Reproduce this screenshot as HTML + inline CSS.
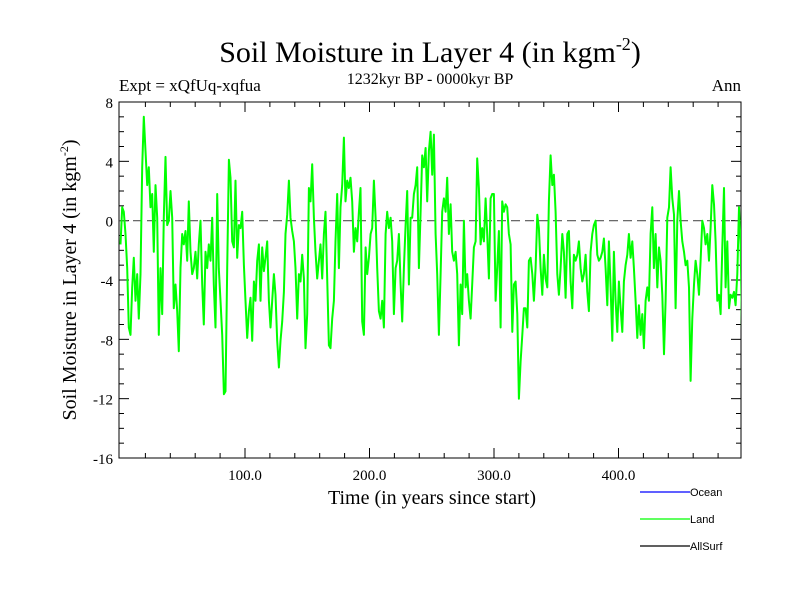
<!DOCTYPE html>
<html><head><meta charset="utf-8"><style>body{margin:0;background:#fff}svg{display:block}</style></head>
<body>
<svg id="chart" width="800" height="600" xmlns="http://www.w3.org/2000/svg" font-family="'Liberation Serif', serif">
<text x="430" y="62" text-anchor="middle" font-size="30">Soil Moisture in Layer 4 (in kgm<tspan font-size="18" dy="-12">-2</tspan><tspan dy="12">)</tspan></text>
<text x="119" y="91" font-size="17">Expt = xQfUq-xqfua</text>
<text x="430" y="84" text-anchor="middle" font-size="16">1232kyr BP - 0000kyr BP</text>
<text x="741" y="91" text-anchor="end" font-size="17">Ann</text>
<text transform="translate(76,280) rotate(-90)" text-anchor="middle" font-size="20">Soil Moisture in Layer 4 (in kgm<tspan font-size="12" dy="-8">-2</tspan><tspan dy="8">)</tspan></text>
<text x="432" y="504" text-anchor="middle" font-size="20">Time (in years since start)</text>
<g id="axes"></g>
<defs><clipPath id="clip"><rect x="119" y="102" width="622" height="356"/></clipPath></defs>
<g id="plot" clip-path="url(#clip)"></g>
<g id="legend" font-family="'Liberation Sans', sans-serif" font-size="11"></g>
</svg>
<script>
const STEP = 1.339;
const landValues = [-1.6,0.9,0.6,-0.9,-3.2,-7.2,-7.7,-4.5,-2.5,-5.4,-3.6,-6.6,-3.6,3.6,7.0,4.7,2.4,3.6,0.9,1.8,-2.1,2.4,0.2,-7.7,-3.2,-6.3,0.2,4.3,-0.3,0,2.0,0.2,-5.9,-4.3,-6.1,-8.8,-3.2,-0.9,-1.6,-0.7,-2.7,1.3,-2.1,-3.6,-3.2,-2.1,-3.9,-1.6,0,-4.3,-7.0,-2.1,-3.2,-1.6,-2.7,0.2,-4.3,-7.2,1.8,-3.2,-5.4,-7.7,-11.7,-11.5,-3.2,4.1,2.9,-1.4,-1.8,2.7,-2.5,-0.3,-0.5,0.6,-3.0,-5.4,-7.9,-6.1,-5.2,-8.1,-4.1,-5.4,-2.7,-1.6,-5.4,-1.8,-3.4,-2.5,-1.4,-5.4,-7.2,-5.4,-3.6,-5.0,-8.1,-9.9,-8.1,-6.8,-4.8,-0.9,0.4,2.7,0.2,-0.7,-1.4,-3.2,-6.6,-3.6,-4.1,-2.3,-3.9,-8.6,-6.3,2.2,1.3,3.8,0.2,-2.1,-3.9,-2.7,-1.6,-3.9,-0.9,0.6,-3.9,-8.4,
-8.6,-6.6,-5.4,-1.4,1.8,-3.2,0.9,2.4,5.6,1.3,2.7,2.2,2.9,1.3,-2.1,-0.5,-1.4,0.6,2.2,-6.8,-7.7,-1.8,-3.6,-2.5,-0.9,-0.5,2.7,0.2,-3.2,-6.1,-6.6,-5.4,-7.2,-0.9,0.6,-0.5,0.2,-1.4,-6.3,-3.2,-2.7,-0.9,-4.3,-6.8,-3.2,-0.3,2.0,-4.3,0.2,0.2,1.8,2.4,3.6,-3.2,0.6,4.4,3.6,4.9,1.3,4.7,6.0,3.1,5.8,-0.9,-3.6,-7.7,-3.6,0.6,1.5,0.6,2.9,-0.9,1.1,-2.1,-2.7,-2.1,-3.6,-8.4,-4.3,-6.3,0,-4.5,-3.6,-5.4,-6.6,-4.3,-1.8,-1.4,4.2,2.2,-1.6,-0.5,-1.4,1.5,-0.9,-3.9,1.5,1.8,1.8,-5.4,-3.2,-0.7,-7.2,1.3,0.6,1.1,0.9,-0.9,-1.6,-7.5,-4.3,-4.1,-6.3,-12.0,-9.5,-7.7,-5.9,-5.9,-7.2,-2.7,-2.5,-3.6,-5.4,
-3.2,0.4,-0.5,-3.2,-5.0,-2.3,-3.9,-4.5,1.3,4.4,2.4,3.1,0.6,-3.6,-5.0,-3.2,-0.9,-2.1,-5.2,-0.9,-0.7,-4.1,-5.9,-2.3,-2.7,-2.3,-1.4,-3.2,-4.1,-3.6,-2.3,-4.8,-6.1,-2.1,-0.9,-0.3,0,-2.3,-2.7,-2.5,-2.1,-1.2,-3.2,-5.7,-1.4,-4.5,-8.1,-2.1,-5.4,-7.5,-4.1,-5.9,-7.5,-4.1,-3.0,-2.3,-0.9,-2.5,-1.4,-3.2,-5.4,-7.9,-5.7,-7.7,-6.3,-8.6,-5.4,-4.5,-5.4,-0.9,0.9,-3.2,-0.9,-4.5,-1.8,-2.7,-5.0,-9.0,-5.4,0.2,0.9,3.6,1.5,0.4,-5.9,0,2.0,0,-1.4,-2.1,-3.0,-2.7,-4.5,-10.8,-6.6,-4.3,-2.7,-3.6,-5.0,-2.7,0,-0.5,-1.6,-0.9,-2.7,-0.5,2.4,1.1,-1.4,-5.4,-5.0,-6.3,-1.8,2.2,-4.5,-1.4,-5.9,-5.0,-5.2,-4.8,-5.7,-3.6,0.9,-1.6,-8.6,-9.9];
const yTicks = [8,4,0,-4,-8,-12,-16];
const xTicks = [100,200,300,400];
const xTickLabels = ["100.0","200.0","300.0","400.0"];
const legendNames = ["Ocean","Land","AllSurf"];
const legendColors = ["#0000ff","#00ff00","#000000"];

const NS="http://www.w3.org/2000/svg";
const L=119,R=741,T=102,B=458,XMIN=-1.2,XMAX=498.4,YMIN=-16,YMAX=8;
const xs=v=>L+(v-XMIN)/(XMAX-XMIN)*(R-L);
const ys=v=>B-(v-YMIN)/(YMAX-YMIN)*(B-T);
function mk(tag,attrs,parent){const e=document.createElementNS(NS,tag);for(const k in attrs)e.setAttribute(k,attrs[k]);parent.appendChild(e);return e;}
const axes=document.getElementById('axes'),plot=document.getElementById('plot'),leg=document.getElementById('legend');

let f=mk('rect',{x:L,y:T,width:R-L,height:B-T,fill:'none',stroke:'#000','stroke-width':1},axes);


// minor y ticks
for(let v=YMIN;v<=YMAX;v++){const len=(v%4===0)?10:5;
 mk('line',{x1:L,x2:L+len,y1:ys(v),y2:ys(v),stroke:'#000'},axes);
 mk('line',{x1:R,x2:R-len,y1:ys(v),y2:ys(v),stroke:'#000'},axes);}
yTicks.forEach(v=>{const t=mk('text',{x:L-6,y:ys(v)+6,'text-anchor':'end','font-size':15},axes);t.textContent=v;
 
 });
for(let v=20;v<XMAX;v+=20){const len=(v%100===0)?10:5;
 mk('line',{x1:xs(v),x2:xs(v),y1:B,y2:B-len,stroke:'#000'},axes);
 mk('line',{x1:xs(v),x2:xs(v),y1:T,y2:T+len,stroke:'#000'},axes);}
xTicks.forEach((v,i)=>{const t=mk('text',{x:xs(v),y:B+22,'text-anchor':'middle','font-size':15},axes);t.textContent=xTickLabels[i];
 
 });
let z=mk('line',{x1:L,x2:R,y1:ys(0),y2:ys(0),stroke:'#555','stroke-dasharray':'9,5','stroke-width':1.2},plot);


const pts=landValues.map((v,i)=>xs(i*STEP).toFixed(1)+','+ys(v).toFixed(1)).join(' ');
let ln=mk('polyline',{points:pts,fill:'none',stroke:'#00ff00','stroke-width':2,'stroke-linejoin':'round'},plot);


legendNames.forEach((n,i)=>{const y=492+i*27;
 const l=mk('line',{x1:640,x2:690,y1:y,y2:y,stroke:legendColors[i],'stroke-width':1.2},leg);
 
 
 const t=mk('text',{x:690,y:y+4},leg);t.textContent=n;
 
 });
</script>
</body></html>
